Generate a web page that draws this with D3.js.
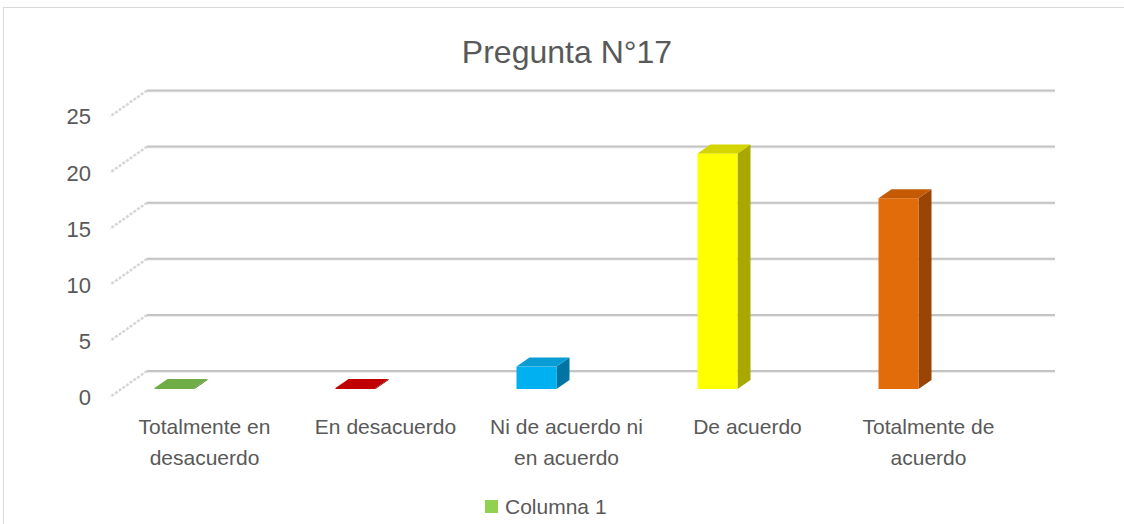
<!DOCTYPE html>
<html>
<head>
  <meta charset='utf-8'>
  <title>Pregunta N°17</title>
  <script src="https://cdn.jsdelivr.net/npm/d3@7"></script>
  <style>
    html, body { margin: 0; padding: 0; background: #fff; }
    text { font-family: "Liberation Sans", Arial, sans-serif; fill: #595959; }
  </style>
</head>
<body>
<script>
// data
const categories = [
  ["Totalmente en", "desacuerdo"],
  ["En desacuerdo"],
  ["Ni de acuerdo ni", "en acuerdo"],
  ["De acuerdo"],
  ["Totalmente de", "acuerdo"]
];
const values = [0, 0, 2, 21, 17];
const yTicks = [0, 5, 10, 15, 20, 25];
const seriesName = "Columna 1";
const title = "Pregunta N°17";

// front / top / side shades per bar
const palette = [
  ["#70ad47", "#5e9c36", "#4c7d2b"],
  ["#c00000", "#c00000", "#8a0000"],
  ["#00b0f0", "#0a9cd4", "#0075a3"],
  ["#ffff00", "#d4d400", "#a8a800"],
  ["#e36c0a", "#c45a06", "#9a4506"]
];

const W = 1124, H = 524;
const svg = d3.select("body").append("svg")
  .attr("width", W).attr("height", H);

// chart frame
svg.append("rect")
  .attr("x", 3.5).attr("y", 7.5)
  .attr("width", W + 20).attr("height", H + 20)
  .attr("fill", "#fff").attr("stroke", "#d9d9d9");

svg.append("text")
  .attr("x", 567).attr("y", 63)
  .attr("text-anchor", "middle")
  .style("font-size", "32px")
  .text(title);

// back wall scale and the depth offset of the side wall
const y = d3.scaleLinear().domain([0, 25]).range([371, 90.5]);
const depth = { dx: -37, dy: 26 };
const wallLeft = 147, wallRight = 1055;

const grid = svg.append("g");
yTicks.forEach(t => {
  grid.append("line")
    .attr("x1", wallLeft).attr("x2", wallRight)
    .attr("y1", y(t) + 1).attr("y2", y(t) + 1)
    .attr("stroke", "#ececec").attr("stroke-width", 2);
  grid.append("line")
    .attr("x1", wallLeft).attr("x2", wallRight)
    .attr("y1", y(t)).attr("y2", y(t))
    .attr("stroke", "#c4c4c4").attr("stroke-width", 2);
  grid.append("line")
    .attr("x1", wallLeft).attr("x2", wallLeft + depth.dx)
    .attr("y1", y(t)).attr("y2", y(t) + depth.dy)
    .attr("stroke", "#d6d6d6").attr("stroke-width", 2.5)
    .attr("stroke-dasharray", "3,1.5");
  grid.append("text")
    .attr("x", 91).attr("y", y(t) + depth.dy)
    .attr("dy", "0.36em")
    .attr("text-anchor", "end")
    .style("font-size", "22px")
    .text(t);
});

// category axis along the front of the floor
const x = d3.scaleBand().domain(d3.range(categories.length)).range([114, 1019]);
const barW = 40, barShift = -50, frontDrop = 18;
const back = { dx: 13, dy: -9 };

const bars = svg.append("g");
values.forEach((v, i) => {
  const x0 = x(i) + x.bandwidth() / 2 + barShift;
  const x1 = x0 + barW;
  const yb = y(0) + frontDrop;
  const yt = Math.min(y(v) + frontDrop, yb - 1);
  const [cf, ct, cs] = palette[i];
  // side face
  bars.append("path")
    .attr("d", d3.line()([[x1, yb], [x1 + back.dx, yb + back.dy], [x1 + back.dx, yt + back.dy], [x1, yt]]))
    .attr("fill", cs);
  // front face
  bars.append("rect")
    .attr("x", x0).attr("y", yt)
    .attr("width", barW).attr("height", yb - yt)
    .attr("fill", cf);
  // top face
  bars.append("path")
    .attr("d", d3.line()([[x0, yt], [x1, yt], [x1 + back.dx, yt + back.dy], [x0 + back.dx, yt + back.dy]]))
    .attr("fill", v === 0 ? cf : ct);
});

const labels = svg.append("g");
categories.forEach((lines, i) => {
  const t = labels.append("text")
    .attr("x", x(i) + x.bandwidth() / 2)
    .attr("y", 434)
    .attr("text-anchor", "middle")
    .style("font-size", "21px");
  lines.forEach((s, k) => {
    t.append("tspan")
      .attr("x", x(i) + x.bandwidth() / 2)
      .attr("dy", k === 0 ? 0 : 31)
      .text(s);
  });
});

// legend
svg.append("rect")
  .attr("x", 485).attr("y", 500).attr("width", 13).attr("height", 13)
  .attr("fill", "#92d050");
svg.append("text")
  .attr("x", 505).attr("y", 514)
  .style("font-size", "21px")
  .text(seriesName);
</script>
</body>
</html>
